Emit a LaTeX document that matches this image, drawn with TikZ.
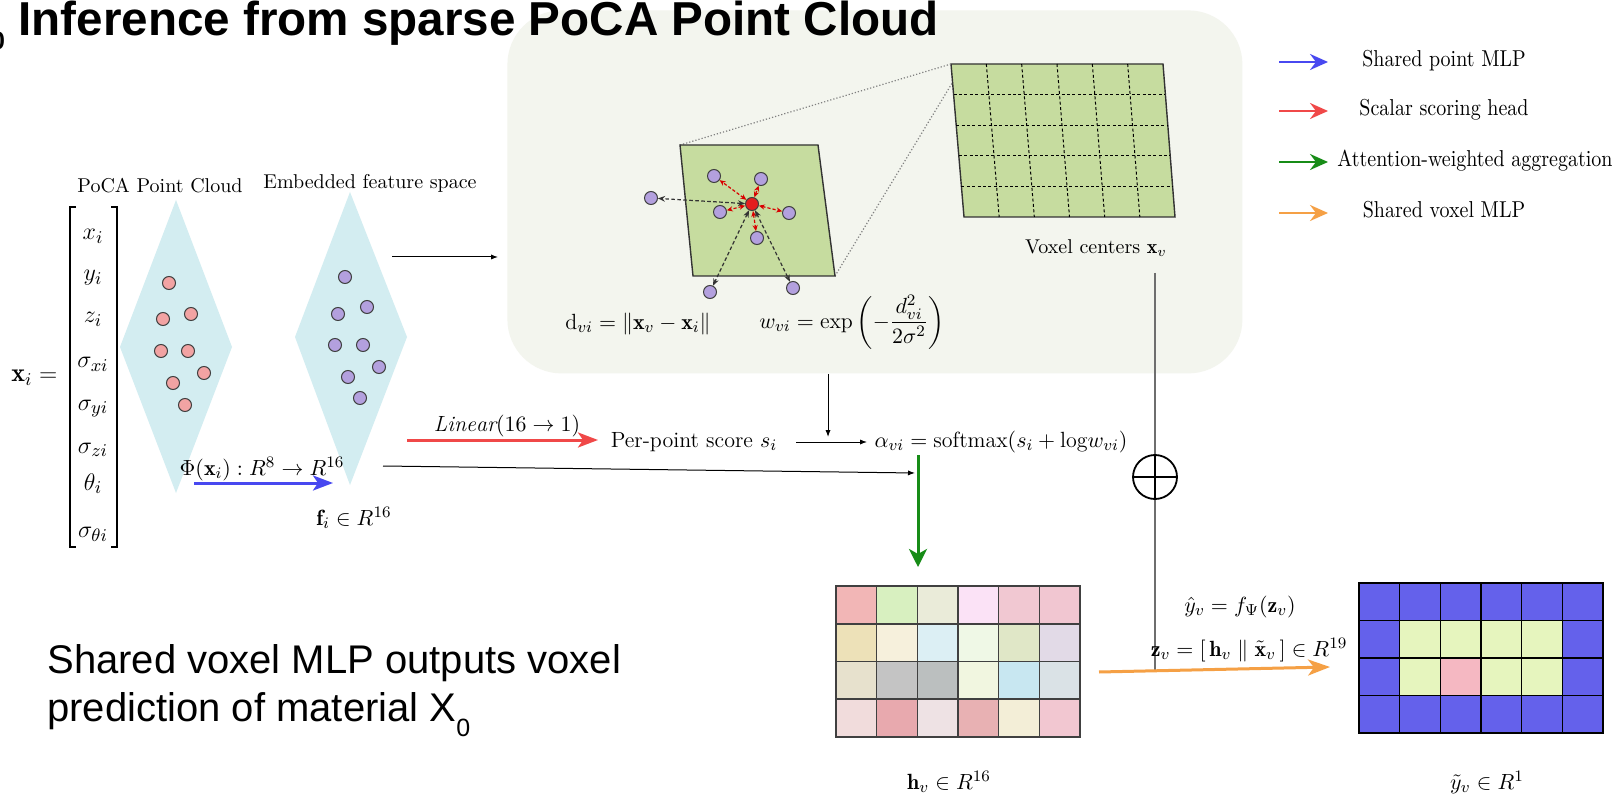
\documentclass[tikz,border=0pt]{standalone}
\usepackage{amsmath,amssymb}
\usepackage{fontspec}
\newfontfamily\arialfont{Liberation Sans}
\usetikzlibrary{arrows.meta,calc}

\definecolor{diamondfill}{HTML}{D3EDF1}
\definecolor{pinkdot}{HTML}{F2A3A3}
\definecolor{purpledot}{HTML}{B3A0DE}
\definecolor{reddot}{HTML}{E41E1E}
\definecolor{cellgreen}{HTML}{C6DC9F}
\definecolor{panelbg}{HTML}{F3F5EE}
\definecolor{mlpblue}{HTML}{4848F0}
\definecolor{scorered}{HTML}{F04848}
\definecolor{aggrgreen}{HTML}{178C17}
\definecolor{voxorange}{HTML}{F5A045}
\definecolor{outblue}{HTML}{6461EB}
\definecolor{outlime}{HTML}{E6F5BE}
\definecolor{outpink}{HTML}{F5B8C2}
\definecolor{linegray}{HTML}{6E6E6E}
% per-voxel feature colours, hc<row><column>
\definecolor{hc11}{HTML}{F2B6B6}\definecolor{hc12}{HTML}{D8F0C0}\definecolor{hc13}{HTML}{EAEBD9}
\definecolor{hc14}{HTML}{FBE2F6}\definecolor{hc15}{HTML}{F1C8D2}\definecolor{hc16}{HTML}{F1C6D1}
\definecolor{hc21}{HTML}{EDE1B8}\definecolor{hc22}{HTML}{F6F0DC}\definecolor{hc23}{HTML}{DCEFF4}
\definecolor{hc24}{HTML}{EFF8E6}\definecolor{hc25}{HTML}{E0E7C7}\definecolor{hc26}{HTML}{E2DAE7}
\definecolor{hc31}{HTML}{E7E1CD}\definecolor{hc32}{HTML}{C4C4C4}\definecolor{hc33}{HTML}{BBBFBF}
\definecolor{hc34}{HTML}{F1F6E0}\definecolor{hc35}{HTML}{C8E7F1}\definecolor{hc36}{HTML}{DAE2E6}
\definecolor{hc41}{HTML}{F1DCDC}\definecolor{hc42}{HTML}{E8A9AE}\definecolor{hc43}{HTML}{EEE2E4}
\definecolor{hc44}{HTML}{E8B1B3}\definecolor{hc45}{HTML}{F3EED7}\definecolor{hc46}{HTML}{F2C7D1}

\begin{document}
\begin{tikzpicture}[x=0.5pt,y=-0.5pt,
  lbl/.style={inner sep=0pt, font=\fontsize{10}{12}\selectfont},
  eq/.style={inner sep=0pt, font=\fontsize{11}{13}\selectfont},
  mx/.style={inner sep=0pt, font=\fontsize{13}{15}\selectfont},
  dotP/.style={circle, draw=black!75, line width=0.5pt, fill=pinkdot, minimum size=6.5pt, inner sep=0pt},
  dotQ/.style={dotP, fill=purpledot},
  dotR/.style={dotP, fill=reddot},
  thinarrow/.style={-{Latex[length=3.5pt,width=2.6pt]}, line width=0.5pt, black},
  bigarrow/.style={line width=1.5pt, -{Stealth[length=10pt,width=7.5pt,inset=2.5pt]}},
  legarrow/.style={line width=1.3pt, -{Stealth[length=9pt,width=8pt,inset=3pt]}},
  redlink/.style={red!85!black, line width=0.6pt, dash pattern=on 1.6pt off 1pt,
    {Stealth[length=3pt,width=2.6pt]}-{Stealth[length=3pt,width=2.6pt]}},
  blacklink/.style={black!80, line width=0.6pt, dash pattern=on 1.8pt off 1.2pt,
    {Stealth[length=3.5pt,width=2.8pt]}-{Stealth[length=3.5pt,width=2.8pt]}},
  griddash/.style={black, line width=0.5pt, dash pattern=on 1.5pt off 1.2pt},
  zoomline/.style={gray, line width=0.6pt, densely dotted}]

\useasboundingbox (0,0) rectangle (1616,796);
\fill[white] (0,0) rectangle (1616,796);

% ---------- neighbourhood panel ----------
\node[fill=panelbg, rounded corners=27pt, minimum width=367.5pt, minimum height=181.5pt,
      inner sep=0pt, anchor=north west] (panel) at (507,10) {};

% ---------- headings ----------
\node[anchor=east, inner sep=0pt, font=\arialfont\bfseries\fontsize{12.5}{14}\selectfont] (stub) at (5.5,41) {0};
\node[anchor=base west, inner sep=0pt, font=\arialfont\bfseries\fontsize{23.8}{28}\selectfont] (title) at (18,36)
  {Inference from sparse PoCA Point Cloud};
% the base anchor of a two-line node sits on its last line
\node[anchor=base west, inner sep=0pt, align=left, font=\arialfont\fontsize{20}{24}\selectfont] (note) at (47,721)
  {Shared voxel MLP outputs voxel\\prediction of material X\raisebox{-7.5pt}{\fontsize{12.5}{14}\selectfont 0}};

% ---------- input vector ----------
\node[mx, anchor=base west] (xlhs) at (11,382) {$\mathbf{x}_i =$};
\draw[line width=0.8pt] (76,207) -- (70,207) -- (70,547) -- (76,547);
\draw[line width=0.8pt] (111,207) -- (117,207) -- (117,547) -- (111,547);
\foreach \t/\yy [count=\k] in {{x_i}/240, {y_i}/281, {z_i}/323, {\sigma_{xi}}/368,
    {\sigma_{yi}}/410, {\sigma_{zi}}/453, {\theta_i}/490, {\sigma_{\theta i}}/537}
  \node[mx, anchor=base] (xe\k) at (93,\yy) {$\t$};

% ---------- point cloud and embedding ----------
\fill[diamondfill] (176,200) -- (232,347) -- (176,493) -- (120,347) -- cycle;
\fill[diamondfill] (350,192) -- (407,337) -- (350,485) -- (295,337) -- cycle;
\node[lbl] (pocalbl) at (160,186) {PoCA Point Cloud};
\node[lbl] (emblbl) at (370,183) {Embedded feature space};

\foreach \px/\py [count=\k] in {169/283, 163/319, 191/314, 161/351, 188/351, 204/373, 173/383, 185/405}
  \node[dotP] (pp\k) at (\px,\py) {};
\foreach \px/\py [count=\k] in {345/277, 338/314, 367/307, 335/345, 363/345, 379/367, 348/377, 360/398}
  \node[dotQ] (fp\k) at (\px,\py) {};

\coordinate (phiS) at (194,483);
\coordinate (phiE) at (333,483);
\draw[bigarrow, mlpblue] (phiS) -- (phiE);
\node[eq, anchor=base] (philbl) at (262,475) {$\Phi(\mathbf{x}_i) : R^8 \to R^{16}$};
\node[eq, anchor=base] (filbl) at (354,525) {$\mathbf{f}_i \in R^{16}$};

% ---------- local neighbourhood (zoomed voxel cell) ----------
\coordinate (sTL) at (680,145); \coordinate (sTR) at (818,145);
\coordinate (sBR) at (835,276); \coordinate (sBL) at (693,276);
\coordinate (gTL) at (951,64);  \coordinate (gTR) at (1163,64);
\coordinate (gBR) at (1175,217); \coordinate (gBL) at (964,217);

\draw[fill=cellgreen, draw=black!80, line width=0.7pt] (gTL) -- (gTR) -- (gBR) -- (gBL) -- cycle;
\draw[griddash] \foreach \k in {1,...,5} { ($(gTL)!\k/6!(gTR)$) -- ($(gBL)!\k/6!(gBR)$) };
\draw[griddash] \foreach \k in {1,...,4} { ($(gTL)!\k/5!(gBL)$) -- ($(gTR)!\k/5!(gBR)$) };
\node[lbl] (vclbl) at (1096,248) {Voxel centers $\mathbf{x}_v$};

\draw[zoomline] (sTL) -- (gTL);
\draw[zoomline] (sBR) -- ($(gTL)!0.12!(gBL)$);
\draw[fill=cellgreen, draw=black!80, line width=0.7pt] (sTL) -- (sTR) -- (sBR) -- (sBL) -- cycle;

\node[dotR] (ctr) at (752,204) {};
\foreach \px/\py [count=\k] in {714/176, 761/179, 720/212, 789/213, 757/238}
  \node[dotQ] (nb\k) at (\px,\py) {};
\foreach \px/\py [count=\k] in {651/198, 710/292, 793/288}
  \node[dotQ] (far\k) at (\px,\py) {};
\foreach \k in {1,...,5} \draw[redlink] (ctr) -- (nb\k);
\foreach \k in {1,...,3} \draw[blacklink] (ctr) -- (far\k);

\node[eq] (dlbl) at (638,324) {$\mathrm{d}_{vi} = \|\mathbf{x}_v - \mathbf{x}_i\|$};
\node[eq] (wlbl) at (852,322) {$w_{vi} = \exp\left(-\dfrac{d_{vi}^2}{2\sigma^2}\right)$};

\coordinate (embOut) at (392,257);
\coordinate (panelIn) at (498,257);
\draw[thinarrow] (embOut) -- (panelIn);

% ---------- scoring and attention ----------
\coordinate (linS) at (407,440);
\coordinate (linE) at (598,440);
\draw[bigarrow, scorered] (linS) -- (linE);
\node[eq, anchor=base] (linlbl) at (507,431) {$\mathit{Linear}(16 \to 1)$};
\node[eq, anchor=base] (score) at (694,447) {Per-point score $s_i$};
\node[eq, anchor=base] (alpha) at (1001,447) {$\alpha_{vi} = \mathrm{softmax}(s_i + \mathrm{log} w_{vi})$};

\coordinate (sOut) at (796,442);
\coordinate (aIn) at (867,442);
\draw[thinarrow] (sOut) -- (aIn);
\coordinate (wDrop) at (828,437);
\draw[thinarrow] (panel.south -| wDrop) -- (wDrop);

\coordinate (featS) at (383,466);
\coordinate (featE) at (915,473);
\draw[thinarrow] (featS) -- (featE);

\coordinate (aggS) at (918,455);
\coordinate (aggE) at (918,567);
\draw[line width=1.5pt, aggrgreen, -{Stealth[length=9pt,width=9pt,inset=2.5pt]}] (aggS) -- (aggE);

% ---------- voxel features ----------
\foreach \r in {1,...,4}
  \foreach \c in {1,...,6}
    \fill[hc\r\c] ({836+(\c-1)*40.667},{586+(\r-1)*37.75}) rectangle ++(40.667,37.75);
\draw[black!75, line width=0.8pt] (836,586) rectangle (1080,737);
\foreach \c in {1,...,5} \draw[black!75, line width=0.8pt] ({836+\c*40.667},586) -- ({836+\c*40.667},737);
\foreach \r in {1,...,3} \draw[black!75, line width=0.8pt] (836,{586+\r*37.75}) -- (1080,{586+\r*37.75});
\node[minimum width=122pt, minimum height=75.5pt, inner sep=0pt, anchor=north west] (hgrid) at (836,586) {};
\node[eq, anchor=base] (hlbl) at (949,789) {$\mathbf{h}_v \in R^{16}$};

% ---------- voxel centre branch ----------
\coordinate (vTop) at (1155,273);
\coordinate (vBot) at (1155,670);
\draw[linegray, line width=0.8pt] (vTop) -- (vBot);
\node[circle, draw=black, line width=0.9pt, minimum size=22pt, inner sep=0pt] (oplus) at (1155,477) {};
\draw[line width=0.9pt] (oplus.west) -- (oplus.east) (oplus.north) -- (oplus.south);

\coordinate (mlpS) at (1099,672);
\coordinate (mlpE) at (1330,667);
\draw[line width=1.5pt, voxorange, -{Stealth[length=11pt,width=8pt,inset=3pt]}] (mlpS) -- (mlpE);
\node[eq, anchor=base] (yhat) at (1240,612) {$\hat{y}_v = f_{\Psi}(\mathbf{z}_v)$};
\node[eq, anchor=base] (zlbl) at (1249,656) {$\mathbf{z}_v = [\,\mathbf{h}_v \parallel \tilde{\mathbf{x}}_v\,] \in R^{19}$};

% ---------- voxel predictions ----------
\fill[outblue] (1359,583) rectangle (1603,733);
\fill[outlime] ({1359+40.667},{583+37.5}) rectangle ({1359+5*40.667},{583+3*37.5});
\fill[outpink] ({1359+2*40.667},{583+2*37.5}) rectangle ({1359+3*40.667},{583+3*37.5});
\draw[black, line width=0.8pt] (1359,583) rectangle (1603,733);
\foreach \c in {1,...,5} \draw[black, line width=0.8pt] ({1359+\c*40.667},583) -- ({1359+\c*40.667},733);
\foreach \r in {1,...,3} \draw[black, line width=0.8pt] (1359,{583+\r*37.5}) -- (1603,{583+\r*37.5});
\node[minimum width=122pt, minimum height=75pt, inner sep=0pt, anchor=north west] (ygrid) at (1359,583) {};
\node[eq, anchor=base] (ylbl) at (1487,789) {$\tilde{y}_v \in R^1$};

% ---------- legend ----------
\foreach \yy/\col/\txt/\cx [count=\k] in {62/mlpblue/Shared point MLP/1444,
    111/scorered/Scalar scoring head/1444,
    162/aggrgreen/Attention-weighted aggregation/1475,
    213/voxorange/Shared voxel MLP/1444} {
  \coordinate (la\k) at (1279,\yy);
  \coordinate (lb\k) at (1328,\yy);
  \draw[legarrow, \col] (la\k) -- (lb\k);
  \node[lbl, anchor=base, yscale=1.15] (lt\k) at (\cx,\yy+5) {\txt};
}
\end{tikzpicture}
\end{document}
